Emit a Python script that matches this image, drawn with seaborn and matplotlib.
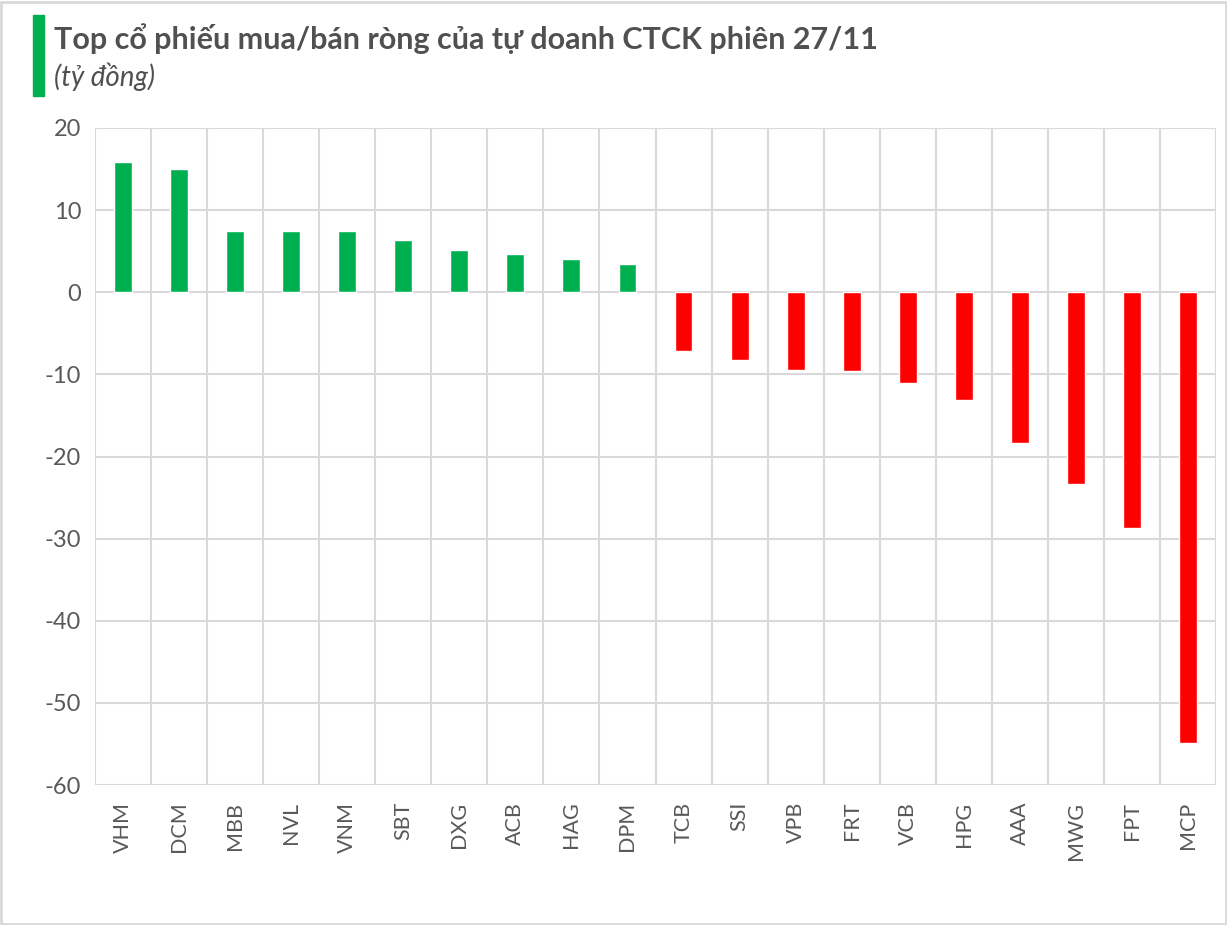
import matplotlib
matplotlib.use("Agg")
import matplotlib.pyplot as plt
import seaborn as sns
import numpy as np
from matplotlib.patches import Rectangle

tickers = ["VHM", "DCM", "MBB", "NVL", "VNM", "SBT", "DXG", "ACB", "HAG", "DPM",
           "TCB", "SSI", "VPB", "FRT", "VCB", "HPG", "AAA", "MWG", "FPT", "MCP"]
values = [15.8, 15.0, 7.5, 7.5, 7.4, 6.4, 5.2, 4.6, 4.0, 3.4,
          -7.2, -8.2, -9.5, -9.6, -11.0, -13.1, -18.3, -23.4, -28.7, -54.9]
yticks = [20, 10, 0, -10, -20, -30, -40, -50, -60]
title = "Top cổ phiếu mua/bán ròng của tự doanh CTCK phiên 27/11"
subtitle = "(tỷ đồng)"

GREEN = "#00B050"
RED = "#FF0000"
GRID = "#D9D9D9"
TXT = "#595959"

sns.set_theme(style="white")
plt.rcParams['font.family'] = ['Lato', 'DejaVu Sans']

fig = plt.figure(figsize=(12.27, 9.25), dpi=100)
ax = fig.add_axes([95/1227, 1-785/925, (1216-95)/1227, (785-128)/925])

colors = [GREEN if v >= 0 else RED for v in values]
sns.barplot(x=tickers, y=values, hue=tickers, palette=colors, legend=False,
            width=0.32, ax=ax, saturation=1)

ax.set_ylim(-60, 20)
ax.set_xlim(-0.5, len(tickers) - 0.5)
ax.set_yticks(yticks)
ax.set_yticklabels([str(t) for t in yticks], fontsize=17, color=TXT)
ax.set_xticks(range(len(tickers)))
ax.set_xticklabels(tickers, rotation=90, fontsize=15.5, color=TXT)
ax.set_xticks(np.arange(-0.5, len(tickers), 1.0), minor=True)
ax.tick_params(axis='both', which='both', length=0)
ax.tick_params(axis='y', pad=10)
ax.tick_params(axis='x', pad=12)
ax.grid(True, axis='y', which='major', color=GRID, lw=1.5)
ax.grid(True, axis='x', which='minor', color=GRID, lw=1.5)
ax.grid(False, axis='x', which='major')
ax.set_axisbelow(True)
for s in ax.spines.values():
    s.set_visible(False)
ax.set_xlabel("")
ax.set_ylabel("")

# title block
fig.text(54/1227, 1-39/925, title, fontsize=22, fontweight='bold', color="#505050",
         va='center', ha='left')
fig.text(54/1227, 1-77/925, subtitle, fontsize=20, fontstyle='italic', color="#505050",
         va='center', ha='left')
fig.patches.append(Rectangle((33/1227, 1-96/925), 11/1227, 81/925,
                             transform=fig.transFigure, color=GREEN, zorder=5))
fig.patches.append(Rectangle((0.001, 0.001), 0.998, 0.997, transform=fig.transFigure,
                             fill=False, edgecolor=GRID, lw=2))

fig.savefig("out.png", dpi=100)
